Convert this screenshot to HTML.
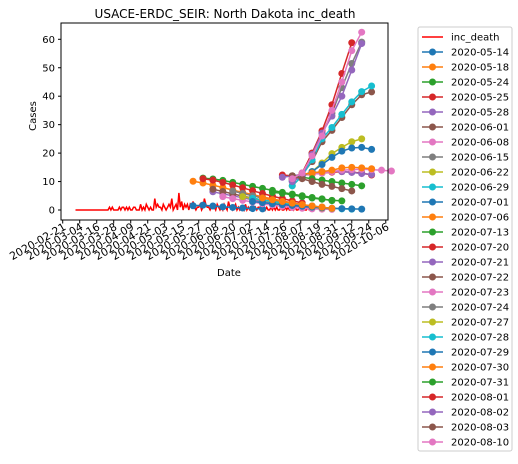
<!DOCTYPE html>
<html><head><meta charset="utf-8">
<style>
body{margin:0;background:#fff;font-family:"Liberation Sans","DejaVu Sans",sans-serif;}
svg text{font-family:"DejaVu Sans","Liberation Sans",sans-serif;}
</style></head>
<body>
<svg id="chart" width="518" height="459" xmlns="http://www.w3.org/2000/svg">
<rect width="518" height="459" fill="#fff"/>
<text x="225" y="18" font-size="12" text-anchor="middle">USACE-ERDC_SEIR: North Dakota inc_death</text>
<text transform="translate(36,116) rotate(-90)" font-size="10" text-anchor="middle">Cases</text>
<text x="229" y="276" font-size="10" text-anchor="middle">Date</text>
<g id="plot"></g>
<rect x="61" y="23" width="327" height="197" fill="none" stroke="#000" stroke-width="1"/>
<g id="ticks"></g>
<g id="legend"></g>
</svg>
<script>
const xTickLabels=["2020-02-21","2020-03-04","2020-03-16","2020-03-28","2020-04-09","2020-04-21","2020-05-03","2020-05-15","2020-05-27","2020-06-08","2020-06-20","2020-07-02","2020-07-14","2020-07-26","2020-08-07","2020-08-19","2020-08-31","2020-09-12","2020-09-24","2020-10-06"];
const yTicks=[0,10,20,30,40,50,60];
const obsStartDay=9;
const obsValues=[0,0,0,0,0,0,0,0,0,0,0,0,0,0,0,0,0,0,0,0,0,0,0,0,
1,0,1,0,0,0,0,1,0,1,1,0,1,0,1,0,0,1,1,0,0,0,2,0,1,0,2,1,0,1,
0,0,4,1,2,1,1,0,2,1,0,1,2,1,4,0,1,2,0,6,1,3,0,2,1,2,0,2,1,3,
1,0,1,1,2,0,1,4,2,1,1,0,1,2,1,0,2,1,0,1,0,2,1,0,3,1,1,0,1,2,
0,1,0,1,1,0,2,0,1,0,0,1,0,1,0,1,1,0,0,1,0,1,0,0,1,0,1,0,1,0,
0,1,0,0,1,0,1,0,0,1,0,1,0,0,1,0,0,1,0,0,1,0,0,0];
const seriesNames=["2020-05-14","2020-05-18","2020-05-24","2020-05-25","2020-05-28","2020-06-01","2020-06-08","2020-06-15","2020-06-22","2020-06-29","2020-07-01","2020-07-06","2020-07-13","2020-07-20","2020-07-21","2020-07-22","2020-07-23","2020-07-24","2020-07-27","2020-07-28","2020-07-29","2020-07-30","2020-07-31","2020-08-01","2020-08-02","2020-08-03","2020-08-10"];
const seriesStartWeek=[0,0,1,1,2,2,3,4,5,6,6,7,8,9,9,10,10,10,10,10,10,10,10,10,10,10,10];
const seriesValues=[
[1.5,1.7,1.4,1.1,0.9,0.7,0.5,0.4],
[10.1,9.5,8.7,7.9,7.0,6.2,5.4,4.6,3.9,3.2,2.5,1.9,1.4,1.0],
[11.2,10.9,10.4,9.7,9.0,8.3,7.6,6.9,6.2,5.6,5.0,4.4,3.9,3.3],
[11,10.5,9.7,8.8,7.8,6.8,5.8,4.9,4.0,3.2,2.5],
[6.4,5.7,5.0,4.3,3.6,3.0,2.4,1.9,1.5,1.1,0.8],
[7.3,6.5,5.7,4.9,4.2,3.5,2.9,2.3,1.8,1.4,1.0],
[4.7,4.0,3.4,2.8,2.2,1.7,1.3,0.9,0.6,0.4,0.3,0.2],
[6.7,5.8,5.0,4.2,3.5,2.9,2.3,1.8,1.4,1.0],
[4.7,4.0,3.4,2.8,2.3,1.8,1.4,1.0,0.7,0.5],
[4.1,3.5,3.0,2.5,2.0,1.6,1.2,0.9,0.6,0.4,0.3],
[3.0,2.6,2.2,1.9,1.6,1.3,1.0,0.8,0.6,0.5,0.4,0.3],
[4.2,3.6,3.0,2.4,1.9,1.4,1.0,0.6],
[6.2,5.9,5.3,4.7,4.2,3.8,3.4,3.2],
[12.3,12.0,12.3,12.6,13.0,13.3,13.5,13.3,13.0,12.3],
[11.5,12.0,12.5,13.0,13.5,13.8,13.5,13.2,12.8,12.5],
[10.5,12.5,17,24,28,32.5,37,40.5,41.5],
[11.5,12.5,12.5,13,13.5,14,14.2,14.3,14.2,14,13.7],
[11,13,20,27,34,43,51.5,59],
[8.5,12,13.5,16.5,19.8,22,24,25],
[8.5,12,17.6,25,29,33.6,38,41.6,43.6],
[10,12,13.5,16,18.5,20.7,21.8,22,21.3],
[11,12.5,13,13.5,14,14.8,15,14.8,14.5],
[12,11.5,11,10.5,10,9.5,9,8.5],
[11,13,20,27.8,37,48,58.8],
[10,12,19.5,27,33,40,49.2,58.5],
[12,11,10,9,8.3,7.5,6.7],
[11,13,19,26,35,45,56,62.5]];
const colors=["#1f77b4","#ff7f0e","#2ca02c","#d62728","#9467bd","#8c564b","#e377c2","#7f7f7f","#bcbd22","#17becf"];
const NS="http://www.w3.org/2000/svg";
const X0=62.7,PXD=1.417,Y0=210,PXV=2.845,firstWeekDay=92;
const xs=d=>X0+PXD*d, ys=v=>Y0-PXV*v;
function mk(tag,attrs,parent){const e=document.createElementNS(NS,tag);for(const k in attrs)e.setAttribute(k,attrs[k]);parent.appendChild(e);return e;}
const plot=document.getElementById('plot'),ticks=document.getElementById('ticks'),leg=document.getElementById('legend');
let pts=obsValues.map((v,i)=>xs(obsStartDay+i).toFixed(1)+","+ys(v).toFixed(1)).join(" ");
const obs=mk('polyline',{points:pts,fill:"none",stroke:"#ff0000","stroke-width":1.5},plot);


seriesValues.forEach((vals,s)=>{
 const c=colors[s%10];
 const g=mk('g',{},plot);
 
 
 const p=vals.map((v,i)=>xs(firstWeekDay+7*(seriesStartWeek[s]+i)).toFixed(1)+","+ys(v).toFixed(1)).join(" ");
 mk('polyline',{points:p,fill:"none",stroke:c,"stroke-width":1.5},g);
 vals.forEach((v,i)=>{const m=mk('circle',{cx:xs(firstWeekDay+7*(seriesStartWeek[s]+i)),cy:ys(v),r:3.5,fill:c},g);
  
  });
});
yTicks.forEach(v=>{mk('line',{x1:58,x2:61,y1:ys(v),y2:ys(v),stroke:"#000"},ticks);
 const t=mk('text',{x:55,y:ys(v)+3.5,"font-size":10,"text-anchor":"end"},ticks);t.textContent=v;
 
 });
xTickLabels.forEach((l,i)=>{const x=xs(12*i);mk('line',{x1:x,x2:x,y1:220,y2:223.5,stroke:"#000"},ticks);
 const t=mk('text',{transform:`translate(${x+4},${229}) rotate(-30)`,"font-size":10.8,"text-anchor":"end"},ticks);t.textContent=l;
 
 });
mk('rect',{x:418,y:27,width:94,height:424,rx:2,fill:"#fff",stroke:"#ccc"},leg);
const names=["inc_death"].concat(seriesNames);
names.forEach((n,i)=>{const y=37+15*i;
 const g=mk('g',{},leg);
 
 
 const c=i==0?"#ff0000":colors[(i-1)%10];
 mk('line',{x1:422,x2:443,y1:y,y2:y,stroke:c,"stroke-width":1.5},g);
 if(i>0)mk('circle',{cx:432.5,cy:y,r:3.5,fill:c},g);
 const t=mk('text',{x:451,y:y+3.5,"font-size":10},g);t.textContent=n;});
</script>
</body></html>
